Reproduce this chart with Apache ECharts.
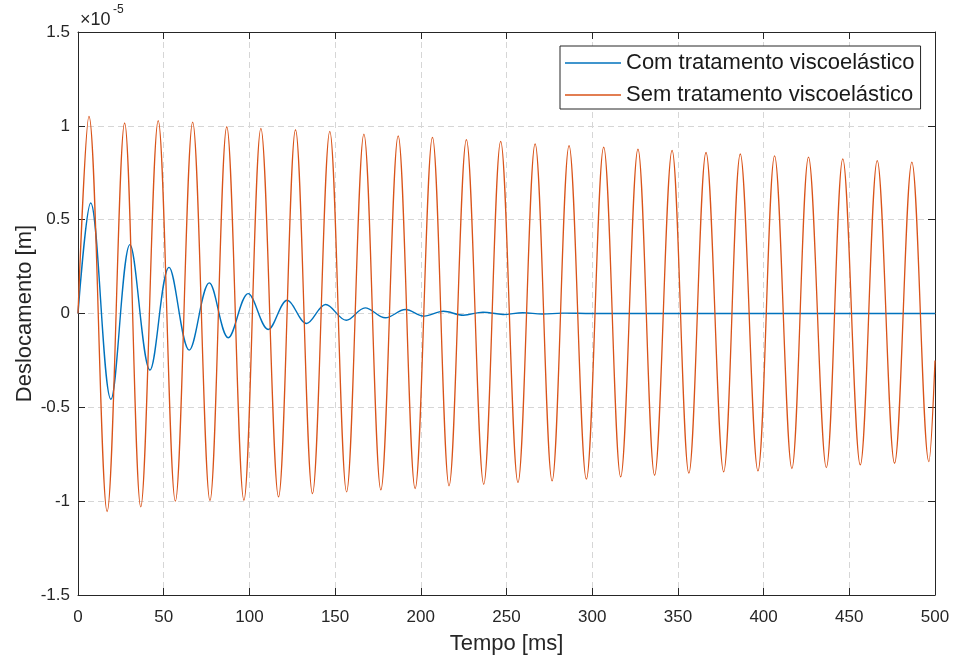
<!DOCTYPE html>
<html>
<head>
<meta charset="utf-8">
<script src="https://cdn.jsdelivr.net/npm/echarts@6/dist/echarts.min.js"></script>
<style>
  html, body { margin: 0; padding: 0; background: #fff; }
  #chart { width: 955px; height: 663px; }
</style>
</head>
<body>
<div id="chart"></div>
<script>
const tempoCom = [0, 7.4, 19.2, 30.3, 42.0, 53.1, 64.9, 76.6, 87.7, 99.3, 111.0, 122.1, 133.3, 144.5, 156.5, 167.5, 179.3, 191.0, 202.0, 213.2, 224.8, 236.3, 248.0, 259.5, 271.0, 282.5, 300, 400, 500]
const valorCom = [0, 0.589, -0.457, 0.367, -0.301, 0.246, -0.195, 0.163, -0.129, 0.106, -0.085, 0.071, -0.053, 0.048, -0.036, 0.030, -0.023, 0.021, -0.014, 0.012, -0.009, 0.007, -0.005, 0.004, -0.003, 0.002, 0, 0, 0]

const tempoSem = [0, 6.4, 17.0, 27.2, 36.6, 46.8, 56.8, 66.9, 77.0, 86.8, 96.8, 106.7, 117.0, 126.9, 136.8, 146.9, 156.7, 166.8, 176.7, 186.8, 196.7, 206.8, 216.5, 226.6, 236.7, 246.6, 256.7, 266.7, 276.6, 286.5, 296.6, 306.7, 316.6, 326.7, 336.4, 346.6, 356.4, 366.4, 376.7, 386.4, 396.7, 406.4, 416.5, 426.2, 436.6, 446.2, 456.4, 466.3, 476.4, 486.5, 496.4, 500]
const valorSem = [0, 1.05, -1.055, 1.015, -1.03, 1.028, -1.0, 1.02, -0.997, 0.995, -0.995, 0.986, -0.977, 0.979, -0.96, 0.97, -0.95, 0.956, -0.94, 0.947, -0.933, 0.938, -0.918, 0.926, -0.91, 0.917, -0.901, 0.904, -0.892, 0.895, -0.883, 0.887, -0.871, 0.876, -0.862, 0.869, -0.851, 0.858, -0.844, 0.85, -0.839, 0.84, -0.826, 0.833, -0.821, 0.824, -0.807, 0.815, -0.798, 0.807, -0.789, -0.25]

const nomes = ['Com tratamento viscoelástico', 'Sem tratamento viscoelástico']
const expoente = ['×10', '-5']

const fonte = '"Liberation Sans", Arial, sans-serif'
const eixoCor = '#262626'

const pares = (t, v) => t.map((x, i) => [x, v[i]])

const gridLine = {
    show: true,
    lineStyle: { color: '#d6d6d6', type: [6, 4], width: 1 }
}

// eixo "espelho" so com linha e ticks para fechar a caixa
const espelho = (extra) => Object.assign({
    type: 'value',
    axisLine: { show: true, onZero: false, lineStyle: { color: eixoCor } },
    axisTick: { show: true, inside: true, length: 7, lineStyle: { color: eixoCor } },
    axisLabel: { show: false },
    splitLine: { show: false }
}, extra)

let Charts = echarts.init(document.getElementById('chart'))
Charts.setOption({
    animation: false,
    textStyle: { fontFamily: fonte },
    grid: {
        left: 78,
        right: 20,
        top: 32,
        bottom: 68
    },
    graphic: [
        { type: 'text', left: 80, top: 11, style: { text: expoente[0], fontSize: 18, fontFamily: fonte, fill: eixoCor } },
        { type: 'text', left: 113, top: 4, style: { text: expoente[1], fontSize: 12, fontFamily: fonte, fill: eixoCor } }
    ],
    legend: {
        data: nomes,
        orient: 'vertical',
        left: 560,
        top: 46,
        icon: 'rect',
        itemWidth: 56,
        itemHeight: 1.5,
        itemGap: 8,
        padding: [5, 6, 2, 5],
        borderColor: eixoCor,
        borderWidth: 1,
        backgroundColor: '#fff',
        textStyle: { fontSize: 22, lineHeight: 24, color: '#1a1a1a', fontFamily: fonte }
    },
    xAxis: [{
        type: 'value',
        min: 0,
        max: 500,
        interval: 50,
        name: 'Tempo [ms]',
        nameLocation: 'middle',
        nameGap: 38,
        nameTextStyle: { fontSize: 22, color: eixoCor },
        axisLine: { onZero: false, lineStyle: { color: eixoCor } },
        axisTick: { inside: true, length: 7, lineStyle: { color: eixoCor } },
        axisLabel: { fontSize: 17, color: eixoCor, margin: 14 },
        splitLine: gridLine
    }, espelho({ position: 'top', min: 0, max: 500, interval: 50 })],
    yAxis: [{
        type: 'value',
        min: -1.5,
        max: 1.5,
        interval: 0.5,
        name: 'Deslocamento [m]',
        nameLocation: 'middle',
        nameGap: 42,
        nameMoveOverlap: false,
        nameTextStyle: { fontSize: 22, color: eixoCor },
        axisLine: { show: true, onZero: false, lineStyle: { color: eixoCor } },
        axisTick: { show: true, inside: true, length: 7, lineStyle: { color: eixoCor } },
        axisLabel: { fontSize: 17, color: eixoCor, margin: 8 },
        splitLine: gridLine
    }, espelho({ position: 'right', min: -1.5, max: 1.5, interval: 0.5 })],
    series: [
        {
            name: nomes[0],
            type: 'line',
            data: pares(tempoCom, valorCom),
            symbol: 'none',
            smooth: 0.36,
            lineStyle: { color: '#0072BD', width: 1.4 },
            itemStyle: { color: '#0072BD' }
        },
        {
            name: nomes[1],
            type: 'line',
            data: pares(tempoSem, valorSem),
            symbol: 'none',
            smooth: 0.36,
            lineStyle: { color: '#D95319', width: 1.3 },
            itemStyle: { color: '#D95319' }
        }
    ]
})
</script>
</body>
</html>
